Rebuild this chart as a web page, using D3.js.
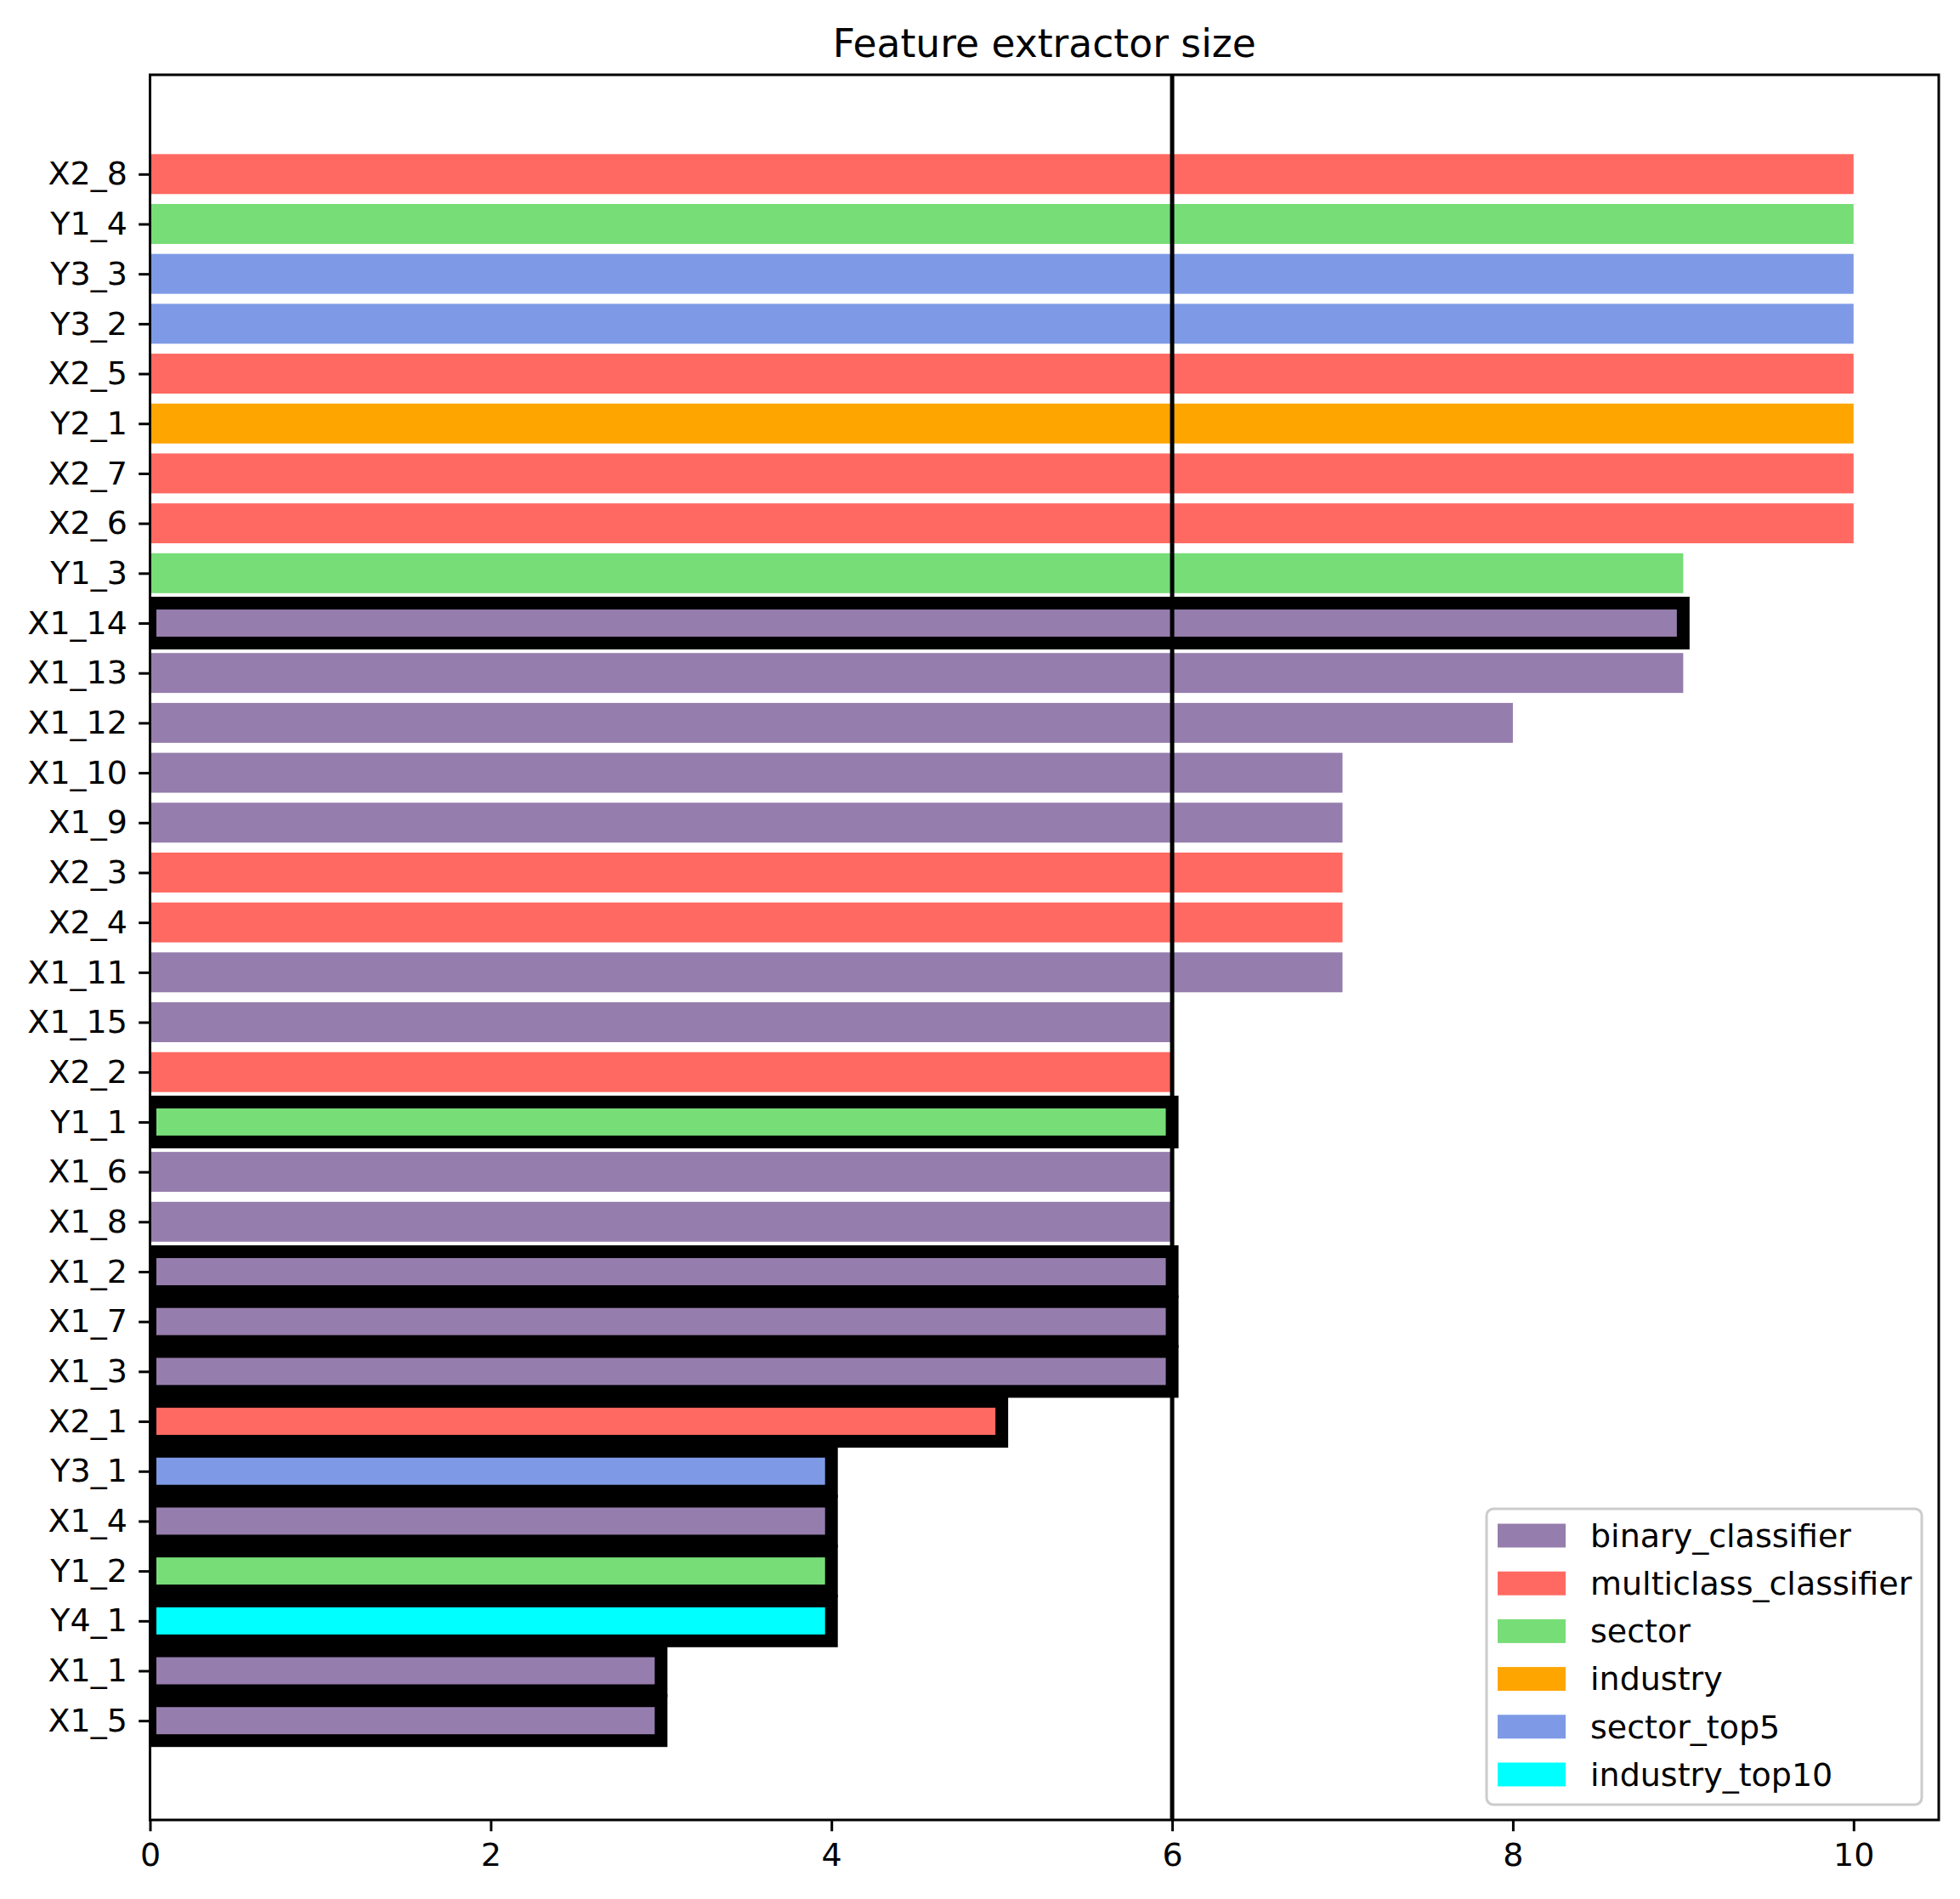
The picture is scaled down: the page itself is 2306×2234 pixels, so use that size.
<!DOCTYPE html>
<html>
<head>
<meta charset="utf-8">
<script src="https://cdn.jsdelivr.net/npm/d3@7"></script>
<style>
  html, body { margin: 0; padding: 0; background: #fff; }
  svg { display: block; font-family: "DejaVu Sans", sans-serif; }
</style>
</head>
<body>
<svg id="chart" width="2306" height="2234"></svg>
<script>
// ---- data (top to bottom as drawn) ----
const labels = ['X2_8','Y1_4','Y3_3','Y3_2','X2_5','Y2_1','X2_7','X2_6','Y1_3','X1_14','X1_13',
  'X1_12','X1_10','X1_9','X2_3','X2_4','X1_11','X1_15','X2_2','Y1_1','X1_6','X1_8','X1_2',
  'X1_7','X1_3','X2_1','Y3_1','X1_4','Y1_2','Y4_1','X1_1','X1_5'];
const sizes = [10,10,10,10,10,10,10,10,9,9,9,8,7,7,7,7,7,6,6,6,6,6,6,6,6,5,4,4,4,4,3,3];
const groups = ['multiclass_classifier','sector','sector_top5','sector_top5','multiclass_classifier',
  'industry','multiclass_classifier','multiclass_classifier','sector','binary_classifier',
  'binary_classifier','binary_classifier','binary_classifier','binary_classifier',
  'multiclass_classifier','multiclass_classifier','binary_classifier','binary_classifier',
  'multiclass_classifier','sector','binary_classifier','binary_classifier','binary_classifier',
  'binary_classifier','binary_classifier','multiclass_classifier','sector_top5',
  'binary_classifier','sector','industry_top10','binary_classifier','binary_classifier'];
const highlighted = ['X1_14','Y1_1','X1_2','X1_7','X1_3','X2_1','Y3_1','X1_4','Y1_2','Y4_1','X1_1','X1_5'];
const legendKeys = ['binary_classifier','multiclass_classifier','sector','industry','sector_top5','industry_top10'];
const legendColors = ['#957dad','#ff6961','#77dd77','#ffa500','#7e9ae6','#00ffff'];
const xTicks = [0, 2, 4, 6, 8, 10];
const threshold = 6;
const title = 'Feature extractor size';

const n = labels.length;
const rows = labels.map((l, i) => ({label: l, v: sizes[i], g: groups[i], idx: n - 1 - i,
                                    edge: highlighted.includes(l)}));

// ---- layout ----
const box = {left: 176.5, right: 2281, top: 88, bottom: 2141};
const fs = 38;
const color = d3.scaleOrdinal().domain(legendKeys).range(legendColors);

const x = d3.scaleLinear().domain([0, 10.5]).range([box.left, box.right]);
const y = d3.scaleLinear().domain([-1.99, n - 1 + 1.99]).range([box.bottom, box.top]);
const barH = 0.8;

const svg = d3.select('#chart');

svg.append('defs').append('clipPath').attr('id', 'clip')
  .append('rect')
  .attr('x', box.left).attr('y', box.top)
  .attr('width', box.right - box.left).attr('height', box.bottom - box.top);

const plot = svg.append('g').attr('clip-path', 'url(#clip)');

// draw bottom bars first so upper ones sit on top
const drawOrder = rows.slice().sort((a, b) => a.idx - b.idx);
plot.selectAll('rect.bar').data(drawOrder).join('rect')
  .attr('class', 'bar')
  .attr('x', x(0))
  .attr('width', d => x(d.v) - x(0))
  .attr('y', d => y(d.idx + barH / 2))
  .attr('height', d => y(d.idx - barH / 2) - y(d.idx + barH / 2))
  .attr('fill', d => color(d.g))
  .attr('stroke', d => d.edge ? '#000' : 'none')
  .attr('stroke-width', 15);

// threshold line
plot.append('line')
  .attr('x1', x(threshold)).attr('x2', x(threshold))
  .attr('y1', box.top).attr('y2', box.bottom)
  .attr('stroke', '#000').attr('stroke-width', 5);

// ---- axes ----
const xAxis = svg.append('g').attr('transform', `translate(0,${box.bottom})`)
  .call(d3.axisBottom(x).tickValues(xTicks).tickFormat(d3.format('d'))
        .tickSize(13.3).tickPadding(13.3).tickSizeOuter(0));
const yAxis = svg.append('g').attr('transform', `translate(${box.left},0)`)
  .call(d3.axisLeft(y).tickValues(rows.map(d => d.idx))
        .tickFormat(i => rows.find(r => r.idx === i).label)
        .tickSize(13.3).tickPadding(13.3).tickSizeOuter(0));

[xAxis, yAxis].forEach(a => {
  a.select('.domain').remove();
  a.selectAll('.tick line').attr('stroke', '#000').attr('stroke-width', 3);
  a.selectAll('.tick text').attr('fill', '#000')
    .style('font-size', fs + 'px').style('font-family', '"DejaVu Sans", sans-serif');
});

// frame
svg.append('rect')
  .attr('x', box.left).attr('y', box.top)
  .attr('width', box.right - box.left).attr('height', box.bottom - box.top)
  .attr('fill', 'none').attr('stroke', '#000').attr('stroke-width', 3);

// title
svg.append('text')
  .attr('x', (box.left + box.right) / 2).attr('y', 67)
  .attr('text-anchor', 'middle')
  .style('font-size', (fs * 1.2) + 'px')
  .text(title);

// ---- legend ----
const lg = svg.append('g').attr('transform', 'translate(1749,1775)');
lg.append('rect')
  .attr('width', 512).attr('height', 348).attr('rx', 8)
  .attr('fill', '#fff').attr('fill-opacity', 0.8)
  .attr('stroke', '#cccccc').attr('stroke-width', 3);

const item = lg.selectAll('g.item').data(legendKeys).join('g')
  .attr('class', 'item')
  .attr('transform', (d, i) => `translate(0,${31.5 + i * 56.2})`);
item.append('rect')
  .attr('x', 13).attr('y', -14).attr('width', 80).attr('height', 28)
  .attr('fill', d => color(d));
item.append('text')
  .attr('x', 122).attr('dy', '0.35em')
  .style('font-size', fs + 'px')
  .text(d => d);
</script>
</body>
</html>
